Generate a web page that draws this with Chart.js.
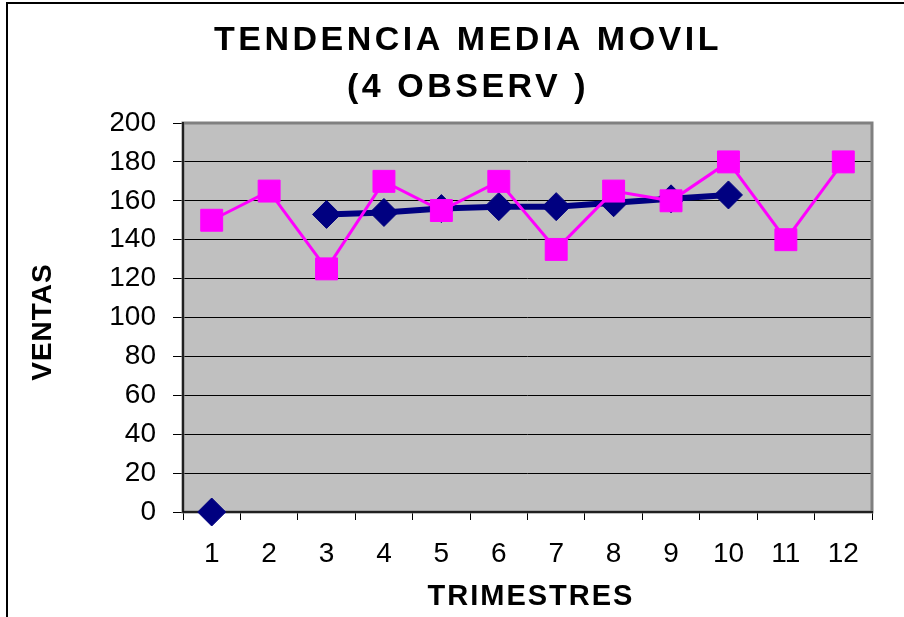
<!DOCTYPE html>
<html>
<head>
<meta charset="utf-8">
<script src="https://cdn.jsdelivr.net/npm/chart.js@4/dist/chart.umd.min.js"></script>
<style>
  html, body { margin: 0; padding: 0; background: #fff; }
  #wrap { width: 904px; height: 617px; position: relative; }
</style>
</head>
<body>
<div id="wrap"><canvas id="c" width="904" height="617"></canvas></div>
<script>
const categories = ['1','2','3','4','5','6','7','8','9','10','11','12'];
const ventas = [150, 165, 125, 170, 155, 170, 135, 165, 160, 180, 140, 180];
const mediaMovil = [0, null, 153, 154, 156, 157, 157, 159, 161, 163, null, null];
const yMin = 0, yMax = 200, yStep = 20;
const titleLines = ['TENDENCIA MEDIA MOVIL', '(4 OBSERV )'];
const xTitle = 'TRIMESTRES';
const yTitle = 'VENTAS';

const FONT = '"Liberation Sans", Arial, sans-serif';

const decor = {
  id: 'decor',
  beforeDraw(chart) {
    const ctx = chart.ctx, a = chart.chartArea;
    ctx.save();
    ctx.fillStyle = '#fff';
    ctx.fillRect(0, 0, chart.width, chart.height);
    ctx.strokeStyle = '#000';
    ctx.lineWidth = 2;
    ctx.strokeRect(7, 3, 2000, 2000);
    ctx.fillStyle = '#C0C0C0';
    ctx.fillRect(a.left, a.top, a.right - a.left, a.bottom - a.top);
    ctx.restore();
  },
  beforeDatasetsDraw(chart) {
    const ctx = chart.ctx, a = chart.chartArea;
    ctx.save();
    ctx.strokeStyle = '#808080';
    ctx.lineWidth = 3;
    ctx.strokeRect(a.left, a.top, a.right - a.left, a.bottom - a.top);
    ctx.strokeStyle = '#000';
    ctx.lineWidth = 1.5;
    ctx.beginPath();
    ctx.moveTo(a.left, a.top - 1);
    ctx.lineTo(a.left, a.bottom);
    ctx.lineTo(a.right + 1, a.bottom);
    ctx.stroke();
    ctx.restore();
  },
  afterDraw(chart) {
    const ctx = chart.ctx;
    ctx.save();
    ctx.fillStyle = '#000';
    ctx.textAlign = 'center';
    ctx.textBaseline = 'middle';
    ctx.font = 'bold 34px ' + FONT;
    ctx.letterSpacing = '3.5px';
    ctx.fillText(titleLines[0], 468, 41);
    ctx.fillText(titleLines[1], 468, 88);
    ctx.font = 'bold 29px ' + FONT;
    ctx.letterSpacing = '2px';
    ctx.fillText(xTitle, 531, 597);
    ctx.translate(43, 322);
    ctx.rotate(-Math.PI / 2);
    ctx.font = 'bold 28px ' + FONT;
    ctx.letterSpacing = '1px';
    ctx.fillText(yTitle, 0, 0);
    ctx.restore();
  }
};

new Chart(document.getElementById('c'), {
  type: 'line',
  data: {
    labels: categories,
    datasets: [
      {
        label: 'Ventas',
        data: ventas,
        borderColor: '#FF00FF',
        backgroundColor: '#FF00FF',
        borderWidth: 3,
        pointStyle: 'rect',
        pointRadius: 15.5,
        pointHoverRadius: 15.5,
        pointBorderWidth: 1,
        pointBorderColor: '#FF00FF',
        pointBackgroundColor: '#FF00FF',
        tension: 0,
        clip: false
      },
      {
        label: 'Media movil',
        data: mediaMovil,
        borderColor: '#000080',
        backgroundColor: '#000080',
        borderWidth: 6,
        pointStyle: 'rectRot',
        pointRadius: 14,
        pointHoverRadius: 14,
        pointBorderWidth: 1,
        pointBorderColor: '#000080',
        pointBackgroundColor: '#000080',
        tension: 0,
        spanGaps: false,
        clip: false
      }
    ]
  },
  options: {
    responsive: false,
    animation: false,
    events: [],
    layout: { padding: { top: 123, right: 32, left: 111, bottom: 45 } },
    plugins: {
      legend: { display: false },
      title: { display: false },
      tooltip: { enabled: false }
    },
    scales: {
      x: {
        type: 'category',
        offset: true,
        grid: { offset: true, drawOnChartArea: false, drawTicks: true, tickLength: 8, color: '#000', lineWidth: 1 },
        border: { display: false },
        ticks: { color: '#000', font: { family: FONT, size: 28 }, padding: 17, maxRotation: 0, autoSkip: false },
        afterFit(s) { s.height = 60; }
      },
      y: {
        min: yMin,
        max: yMax,
        grid: { color: '#000', lineWidth: 1, tickLength: 10, drawTicks: true },
        border: { display: false },
        ticks: { stepSize: yStep, color: '#000', font: { family: FONT, size: 28 }, padding: 17 },
        afterFit(s) { s.width = 72; }
      }
    }
  },
  plugins: [decor]
});
</script>
</body>
</html>
